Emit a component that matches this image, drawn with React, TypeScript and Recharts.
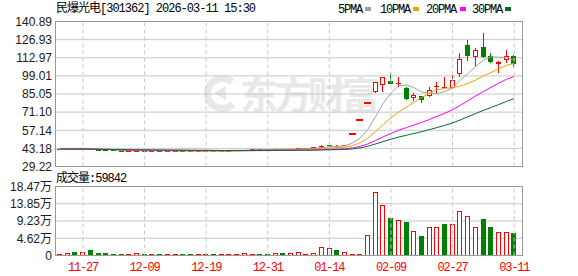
import { ComposedChart, Bar, Line, XAxis, YAxis, CartesianGrid, ReferenceLine } from 'recharts';

// 民爆光电 daily K-line, 60 sessions
const dates = [
  '11-24', '11-25', '11-26', '11-27', '11-28', '12-01', '12-02', '12-03', '12-04', '12-05',
  '12-08', '12-09', '12-10', '12-11', '12-12', '12-15', '12-16', '12-17', '12-18', '12-19',
  '12-22', '12-23', '12-24', '12-25', '12-26', '12-29', '12-30', '12-31', '01-05', '01-06',
  '01-07', '01-08', '01-09', '01-12', '01-13', '01-14', '01-15', '01-16', '02-02', '02-03',
  '02-04', '02-05', '02-06', '02-09', '02-10', '02-11', '02-12', '02-13', '02-24', '02-25',
  '02-26', '02-27', '03-02', '03-03', '03-04', '03-05', '03-06', '03-09', '03-10', '03-11',
];
const opens = [
  42.4, 42.6, 42.8, 42.6, 42.9, 42.1, 41.9, 41.7, 41.5, 41.1,
  41.3, 41.5, 41.2, 41.4, 41.1, 41.3, 41.5, 41.2, 40.8, 41.0,
  41.2, 41.0, 41.2, 41.5, 41.8, 42.2, 42.6, 42.4, 42.2, 42.6,
  42.4, 42.8, 43.2, 43.0, 44.0, 45.6, 45.2, 45.3, 54.48, 65.38,
  78.46, 86.6, 92.36, 94.91, 93.1, 90.04, 82.31, 83.2, 83.32, 90.9,
  90.3, 89.73, 100.08, 122.73, 113.69, 121.41, 114.23, 107.8, 111.14, 114.46,
];
const highs = [
  42.7, 42.9, 42.9, 43.2, 43.0, 42.2, 42.0, 41.8, 41.6, 41.4,
  41.6, 41.6, 41.5, 41.5, 41.4, 41.6, 41.6, 41.3, 41.1, 41.3,
  41.3, 41.3, 41.6, 41.9, 42.3, 42.7, 42.7, 42.5, 42.7, 42.7,
  43.0, 43.4, 43.7, 44.0, 45.5, 46.0, 45.9, 45.6, 54.48, 65.38,
  78.46, 94.15, 97.77, 100.86, 97.77, 90.2, 85.87, 83.5, 90.5, 94.37,
  98.2, 99.55, 116.31, 126.6, 120.18, 132.24, 116.78, 110.7, 118.87, 114.8,
];
const lows = [
  42.3, 42.5, 42.5, 42.5, 42.0, 41.8, 41.6, 41.4, 41.1, 41.0,
  41.2, 41.2, 41.1, 41.1, 41.0, 41.2, 41.1, 40.7, 40.7, 40.9,
  40.9, 40.9, 41.1, 41.4, 41.7, 42.1, 42.3, 42.1, 42.1, 42.3,
  42.3, 42.6, 43.0, 42.9, 43.8, 44.2, 44.6, 45.0, 54.48, 65.38,
  78.46, 85.9, 86.64, 92.5, 90.5, 80.77, 79.45, 78.14, 82.8, 84.86,
  89.3, 89.27, 97.77, 110.6, 106.73, 112.45, 108.59, 100.86, 109.05, 105.96,
];
const closes = [
  42.6, 42.8, 42.6, 43.0, 42.2, 41.9, 41.7, 41.5, 41.2, 41.3,
  41.5, 41.3, 41.4, 41.2, 41.3, 41.5, 41.2, 40.8, 41.0, 41.2,
  41.0, 41.2, 41.5, 41.8, 42.2, 42.6, 42.4, 42.2, 42.6, 42.4,
  42.9, 43.3, 43.5, 43.9, 45.3, 45.5, 45.3, 45.4, 54.48, 65.38,
  78.46, 94.15, 97.77, 92.82, 93.6, 81.54, 84.09, 80.8, 88.5, 91.4,
  90.5, 96.22, 111.68, 114.46, 118.87, 113.69, 109.82, 110.0, 114.23, 108.05,
];
// 成交量, 万手
const volumes = [
  0.36, 0.54, 0.9, 0.9, 1.6, 0.8, 0.54, 0.27, 0.27, 0.27,
  0.54, 0.27, 0.27, 0.27, 0.27, 0.27, 0.27, 0.27, 0.27, 0.27,
  0.27, 0.27, 0.27, 0.27, 0.54, 0.36, 0.27, 0.27, 0.54, 0.54,
  0.54, 1.07, 0.5, 0.8, 2.3, 1.9, 1.34, 1.0, 0.5, 0.5,
  5.6, 17.05, 13.65, 10.17, 9.55, 9.1, 6.6, 5.35, 7.68, 7.68,
  8.3, 8.3, 11.96, 10.7, 7.68, 9.64, 7.76, 6.34, 6.34, 5.9842,
];
const prevClose = 42.4;

const priceTicks = [29.22, 43.18, 57.14, 71.1, 85.05, 99.01, 112.97, 126.93, 140.89];
const volTicks = [0, 4.62, 9.23, 13.85, 18.47];
const dateTicks = ['11-27', '12-09', '12-19', '12-31', '01-14', '02-09', '02-27', '03-11'];
const maPeriods = [5, 10, 20, 30];
const maColors = ['#a0a0a0', '#f0a000', '#ff00ff', '#006a35'];

const RED = '#ff0000';
const GREEN = '#008000';

const movingAvg = (n: number) =>
  closes.map((_, i) => {
    const w = closes.slice(Math.max(0, i - n + 1), i + 1);
    return w.reduce((a, b) => a + b, 0) / w.length;
  });

const maSeries = maPeriods.map((n) => movingAvg(n));

const rows = dates.map((d, i) => {
  const row: any = {
    date: d,
    open: opens[i],
    high: highs[i],
    low: lows[i],
    close: closes[i],
    range: [lows[i], highs[i]],
    vol: volumes[i],
    volUp: closes[i] >= (i ? closes[i - 1] : prevClose),
  };
  maPeriods.forEach((n, k) => (row['ma' + n] = maSeries[k][i]));
  return row;
});

const Candle = (props: any) => {
  const { x, y, width, height, payload } = props;
  const c = x + width / 2;
  const left = Math.round(c - 2.5);
  const range = payload.high - payload.low;
  const toY = (v: number) => (range > 0 ? y + ((payload.high - v) / range) * height : y);
  const up = payload.close >= payload.open;
  const color = up ? RED : GREEN;
  if (range === 0) {
    return <rect x={left - 1} y={Math.round(y) - 1} width={7} height={2} fill={color} />;
  }
  const top = Math.round(toY(Math.max(payload.open, payload.close)));
  const bot = Math.round(toY(Math.min(payload.open, payload.close)));
  const hi = Math.round(toY(payload.high));
  const lo = Math.round(toY(payload.low));
  const bh = Math.max(bot - top, 1);
  return (
    <g>
      <line x1={left + 2.5} x2={left + 2.5} y1={hi} y2={lo} stroke={color} strokeWidth={1} />
      {up && bh > 2 ? (
        <rect x={left + 0.5} y={top + 0.5} width={4} height={bh - 1} fill="#fff" stroke={color} strokeWidth={1} />
      ) : (
        <rect x={left} y={top} width={5} height={bh} fill={color} />
      )}
    </g>
  );
};

const VolBar = (props: any) => {
  const { x, y, width, height, payload } = props;
  const left = Math.round(x + width / 2 - 2.5);
  const top = Math.round(y);
  const h = Math.max(Math.round(y + height) - top, 1);
  if (payload.volUp && h > 2) {
    return <rect x={left + 0.5} y={top + 0.5} width={4} height={h - 1} fill="#fff" stroke={RED} strokeWidth={1} />;
  }
  return <rect x={left} y={top} width={5} height={h} fill={payload.volUp ? RED : GREEN} />;
};

const axisFont = { fontSize: 12, fill: '#1a1a1a', fontFamily: "'Liberation Sans', 'Noto Sans CJK SC', sans-serif" };
const monoFont = "'Liberation Mono', 'Noto Sans CJK SC', monospace";

const legendItems = [
  { label: '5PMA', x: 338, sq: 365 },
  { label: '10PMA', x: 380, sq: 413 },
  { label: '20PMA', x: 426, sq: 460 },
  { label: '30PMA', x: 472, sq: 505 },
];

export default function App() {
  return (
    <div style={{ position: 'absolute', left: 0, top: 0, width: 578, height: 276, background: '#fff', overflow: 'hidden' }}>
      {/* watermark */}
      <svg style={{ position: 'absolute', left: 0, top: 0 }} width={578} height={170}>
        <path d="M 232 82 A 15 15 0 1 0 233 104" fill="none" stroke="#e8e8e8" strokeWidth={7} />
        <path d="M 214 93 L 226 86 L 226 100 Z" fill="#e8e8e8" />
      </svg>
      <div
        style={{
          position: 'absolute', left: 240, top: 74, fontSize: 38, fontWeight: 700, letterSpacing: -4,
          color: '#e8e8e8', fontFamily: "'Noto Sans CJK SC', sans-serif", lineHeight: '38px', whiteSpace: 'nowrap',
        }}
      >
        东方财富
      </div>

      <div style={{ position: 'absolute', left: 0, top: 0 }}>
        <ComposedChart width={578} height={180} data={rows} margin={{ top: 21.5, right: 56, bottom: 13.5, left: 0 }}>
          <CartesianGrid vertical={false} stroke="#c8c8c8" />
          <XAxis dataKey="date" hide padding={{ left: 1, right: 4 }} />
          <YAxis
            domain={[29.22, 140.89]}
            ticks={priceTicks}
            interval={0}
            allowDataOverflow
            width={55}
            axisLine={false}
            tickLine={false}
            tickSize={0}
            tickMargin={3}
            tick={axisFont}
            tickFormatter={(v: number) => v.toFixed(2)}
          />
          {dateTicks.map((d) => (
            <ReferenceLine key={d} x={d} stroke="#c8c8c8" strokeDasharray="4 3" />
          ))}
          <Bar dataKey="range" barSize={5} shape={Candle} isAnimationActive={false} />
          {maPeriods.map((n, k) => (
            <Line
              key={n}
              dataKey={'ma' + n}
              type="linear"
              stroke={maColors[k]}
              strokeWidth={1}
              dot={false}
              isAnimationActive={false}
            />
          ))}
        </ComposedChart>
      </div>

      <div style={{ position: 'absolute', left: 0, top: 170 }}>
        <ComposedChart width={578} height={106} data={rows} margin={{ top: 16.5, right: 56, bottom: 0, left: 0 }}>
          <CartesianGrid vertical={false} stroke="#c8c8c8" />
          <XAxis
            dataKey="date"
            ticks={dateTicks}
            interval={0}
            height={20.5}
            padding={{ left: 1, right: 4 }}
            axisLine={false}
            tickLine={false}
            tickSize={0}
            tickMargin={7}
            tick={{ fontSize: 12, fill: RED, fontFamily: monoFont, letterSpacing: -1.2 }}
          />
          <YAxis
            domain={[0, 18.47]}
            ticks={volTicks}
            interval={0}
            allowDataOverflow
            width={55}
            axisLine={false}
            tickLine={false}
            tickSize={0}
            tickMargin={3}
            tick={axisFont}
            tickFormatter={(v: number) => (v === 0 ? '0' : v.toFixed(2) + '万')}
          />
          {dateTicks.map((d) => (
            <ReferenceLine key={d} x={d} stroke="#c8c8c8" strokeDasharray="4 3" />
          ))}
          <Bar dataKey="vol" barSize={5} shape={VolBar} isAnimationActive={false} />
        </ComposedChart>
      </div>

      {/* panel borders */}
      <div style={{ position: 'absolute', left: 55, top: 21, width: 468, height: 146, border: '1px solid #999', boxSizing: 'border-box' }} />
      <div style={{ position: 'absolute', left: 55, top: 186, width: 468, height: 70, border: '1px solid #999', boxSizing: 'border-box' }} />

      {/* titles */}
      <div style={{ position: 'absolute', left: 56, top: 3, fontSize: 12, lineHeight: '12px', letterSpacing: -1, fontFamily: monoFont, color: '#000', whiteSpace: 'nowrap' }}>
        民爆光电[301362] 2026-03-11 15:30
      </div>
      {legendItems.map((it, k) => (
        <div key={it.label}>
          <div style={{ position: 'absolute', left: it.x, top: 4, fontSize: 12, lineHeight: '12px', letterSpacing: -1.2, fontFamily: monoFont, color: '#000' }}>
            {it.label}
          </div>
          <div style={{ position: 'absolute', left: it.sq, top: 7, width: 6, height: 4, background: maColors[k] }} />
        </div>
      ))}
      <div style={{ position: 'absolute', left: 56, top: 173, fontSize: 12, lineHeight: '12px', letterSpacing: -1, fontFamily: monoFont, color: '#000', whiteSpace: 'nowrap' }}>
        成交量:59842
      </div>
    </div>
  );
}
